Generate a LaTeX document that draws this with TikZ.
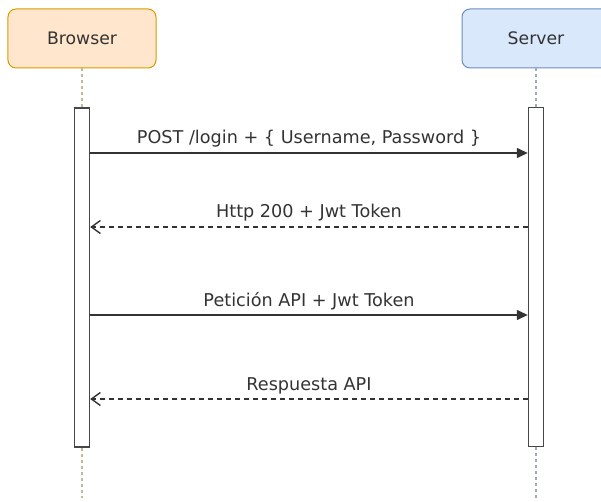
\documentclass[tikz,border=0pt]{standalone}
\usepackage{fontspec}
\setmainfont{DejaVu Sans}
\usetikzlibrary{arrows.meta}
\definecolor{brfill}{HTML}{FFE6CC}
\definecolor{brline}{HTML}{D79B00}
\definecolor{svfill}{HTML}{DAE8FC}
\definecolor{svline}{HTML}{6C8EBF}
\definecolor{ink}{HTML}{333333}
\begin{document}
\begin{tikzpicture}[x=1bp,y=-1bp,
  font=\fontsize{17.3}{20}\selectfont,
  actor/.style={draw, rounded corners=8bp, minimum width=148bp, minimum height=59bp,
    inner sep=0, text=ink, line width=1bp},
  activation/.style={draw=ink!90, fill=white, line width=1.4bp, minimum width=15bp,
    minimum height=339bp, inner sep=0},
  lifeline/.style={line width=2bp, dash pattern=on 3bp off 3bp},
  msg/.style={draw=ink, line width=1.4bp},
  call/.style={msg, -{Triangle[length=11bp,width=10bp]}},
  reply/.style={msg, dash pattern=on 5bp off 4bp, -{Straight Barb[length=9bp,width=13bp]}},
  lbl/.style={anchor=base, text=ink, inner sep=0, font=\fontsize{17.7}{20}\selectfont}]
  \useasboundingbox (0,0) rectangle (601,502);
  \clip (0,0) rectangle (601,502);

  % participants
  \node[actor, fill=brfill, draw=brline] (browser) at (82,38.5) {Browser};
  \node[actor, fill=svfill, draw=svline] (server) at (536,38.5) {Server};

  % activation bars
  \node[activation] (bact) at (82,277.5) {};
  \node[activation] (sact) at (536,277) {};

  % lifeline ends
  \coordinate (bend) at (82,498);
  \coordinate (send) at (536,498);

  % lifelines
  \draw[lifeline, brline!35!gray!60] (browser.south) -- (bact.north);
  \draw[lifeline, brline!35!gray!60] (bact.south) -- (bend);
  \draw[lifeline, svline!60!gray!70] (server.south) -- (sact.north);
  \draw[lifeline, svline!60!gray!70] (sact.south) -- (send);

  % message rows
  \coordinate (m1) at (0,153);
  \coordinate (m2) at (0,227);
  \coordinate (m3) at (0,315);
  \coordinate (m4) at (0,399);

  \draw[call]  (bact.east |- m1) -- (sact.west |- m1);
  \draw[reply] (sact.west |- m2) -- (bact.east |- m2);
  \draw[call]  (bact.east |- m3) -- (sact.west |- m3);
  \draw[reply] (sact.west |- m4) -- (bact.east |- m4);

  % message labels
  \node[lbl] (t1) at (309,144) {POST /login + \{ Username, Password \}};
  \node[lbl] (t2) at (309,218) {Http 200 + Jwt Token};
  \node[lbl] (t3) at (309,306) {Petición API + Jwt Token};
  \node[lbl] (t4) at (309,390) {Respuesta API};
\end{tikzpicture}
\end{document}
